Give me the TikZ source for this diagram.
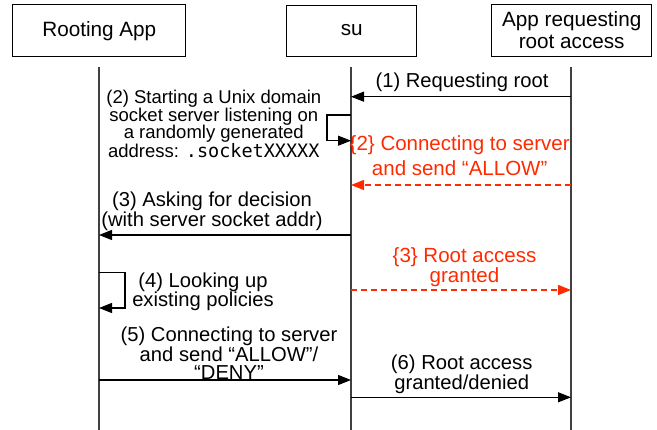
\documentclass[tikz,border=0pt]{standalone}
\usepackage{fontspec}
\usepackage{xcolor}
\usepackage{tikz}
\usetikzlibrary{arrows.meta}
\usetikzlibrary{positioning}
\setmainfont{Liberation Sans}
\newfontfamily\codefont{DejaVu Sans Mono}
\definecolor{alertred}{HTML}{FF2A00}
\tikzset{
    actor/.style = {rectangle, draw=black, line width=0.9pt, align=center, inner sep=0pt, font=\fontsize{20.7}{22}\selectfont},
    lifeline/.style = {-, line width=1.4pt, black!75},
    msg/.style = {-{Triangle[length=13pt,width=10pt]}, line width=1.1pt, black},
    msgr/.style = {-{Triangle[length=13pt,width=10pt]}, line width=1.1pt, alertred, dash pattern=on 6pt off 4pt},
    lbl/.style = {align=center, inner sep=0pt, font=\fontsize{20.2}{18}\selectfont},
    lblr/.style = {align=center, inner sep=0pt, text=alertred, font=\fontsize{20.5}{20}\selectfont},
}

\begin{document}
\begin{tikzpicture}[x=1pt, y=-1pt]
\useasboundingbox (0,0) rectangle (657,430);
\node[actor, minimum width=173pt, minimum height=52pt] at (99.3,30.7) (ra) {Rooting App};
\node[actor, minimum width=130pt, minimum height=51pt] at (351.7,30.5) (su) {su};
\node[actor, minimum width=160pt, minimum height=52pt] at (571.7,30) (app) {App requesting\\root access};
%
\coordinate (ratop) at (99,67);
\coordinate (rabot) at (99,430);
\coordinate (sutop) at (351,67);
\coordinate (subot) at (351,430);
\coordinate (apptop) at (571,67);
\coordinate (appbot) at (571,430);
\draw[lifeline] (ratop) -- (rabot);
\draw[lifeline] (sutop) -- (subot);
\draw[lifeline] (apptop) -- (appbot);
%
\coordinate (m1a) at (571,96.7);
\coordinate (m1b) at (351,96.7);
\coordinate (m2a) at (351,115);
\coordinate (m2b) at (351,140.7);
\coordinate (r2a) at (571,185);
\coordinate (r2b) at (351,185);
\coordinate (m3a) at (351,235);
\coordinate (m3b) at (99,235);
\coordinate (r3a) at (351,290);
\coordinate (r3b) at (571,290);
\coordinate (m4a) at (99,272.3);
\coordinate (m4b) at (99,308);
\coordinate (m5a) at (99,380);
\coordinate (m5b) at (351,380);
\coordinate (m6a) at (351,397.3);
\coordinate (m6b) at (571,397.3);
%
\draw[msg] (m1a) -- (m1b);
\draw[msg] (m2a) -- ++(-24,0) |- (m2b);
\draw[msgr] (r2a) -- (r2b);
\draw[msg] (m3a) -- (m3b);
\draw[msgr] (r3a) -- (r3b);
\draw[msg] (m4a) -- ++(26,0) |- (m4b);
\draw[msg] (m5a) -- (m5b);
\draw[msg] (m6a) -- (m6b);
%
\node[lbl] at (462,82.3) (l1) {(1) Requesting root};
\node[lbl, font=\fontsize{18.5}{17.3}\selectfont] at (213.8,124) (l2) {(2) Starting a Unix domain\\socket server listening on\\a randomly generated\\address: {\codefont .socketXXXXX}};
\node[lblr, font=\fontsize{20.5}{25}\selectfont] at (459.7,155.5) (lr2) {\{2\} Connecting to server\\and send “ALLOW”};
\node[lbl, font=\fontsize{20.2}{20}\selectfont] at (212,211.7) (l3) {(3) Asking for decision\\(with server socket addr)};
\node[lblr, font=\fontsize{20.5}{18.7}\selectfont] at (464.5,267.3) (lr3) {\{3\} Root access\\granted};
\node[lbl, font=\fontsize{20.2}{19}\selectfont] at (203,292.2) (l4) {(4) Looking up\\existing policies};
\node[lbl, font=\fontsize{20.2}{18.3}\selectfont] at (229,353.3) (l5) {(5) Connecting to server\\and send “ALLOW”/\\“DENY”};
\node[lbl, font=\fontsize{20.2}{18.3}\selectfont] at (461.7,374.2) (l6) {(6) Root access\\granted/denied};
\end{tikzpicture}
\end{document}
